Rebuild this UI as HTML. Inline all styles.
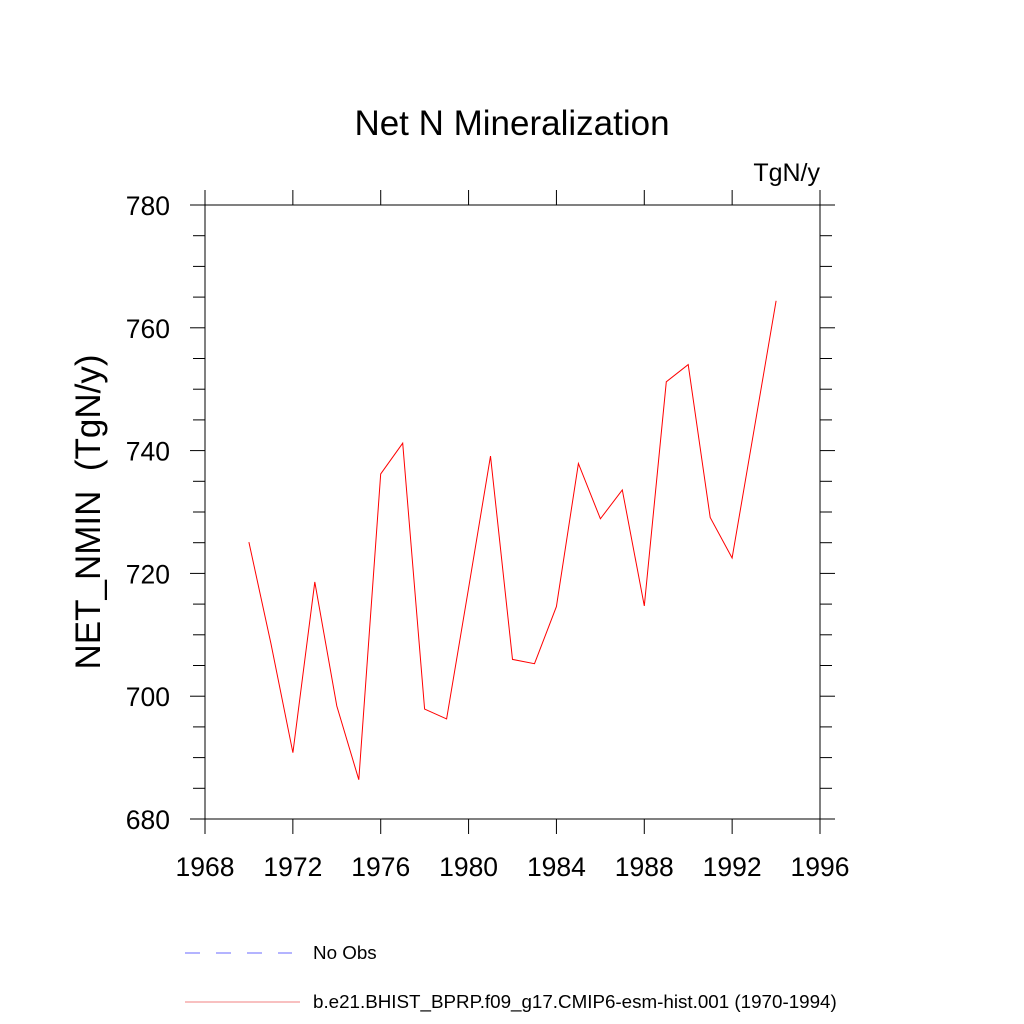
<!DOCTYPE html>
<html><head><meta charset="utf-8"><style>
body{margin:0;background:#fff}
svg{display:block;font-family:"Liberation Sans",Arial,sans-serif}
</style></head><body>
<svg id="chart" width="1024" height="1024" viewBox="0 0 1024 1024">
<text x="512" y="135" font-size="35" text-anchor="middle">Net N Mineralization</text>
<text x="820" y="181" font-size="25" text-anchor="end">TgN/y</text>
<text transform="translate(100,512) rotate(-90)" font-size="35" text-anchor="middle" style="white-space:pre" xml:space="preserve">NET_NMIN  (TgN/y)</text>
<g id="axes"></g>
<g id="series"></g>
<g>
<line x1="185" y1="953" x2="292" y2="953" stroke="#6a6aff" stroke-width="1" stroke-dasharray="15,16"/>
<text x="313" y="959" font-size="18.8">No Obs</text>
<line x1="185" y1="1002" x2="300" y2="1002" stroke="#f08080" stroke-width="1"/>
<text x="313" y="1008" font-size="18.8">b.e21.BHIST_BPRP.f09_g17.CMIP6-esm-hist.001 (1970-1994)</text>
</g>
</svg>
<script>
const years=[1970,1971,1972,1973,1974,1975,1976,1977,1978,1979,1980,1981,1982,1983,1984,1985,1986,1987,1988,1989,1990,1991,1992,1993,1994];
const values=[725.1,708.6,690.8,718.6,698.4,686.4,736.2,741.2,697.9,696.3,717.6,739.1,706.0,705.3,714.6,737.9,728.9,733.6,714.7,751.2,754.0,729.1,722.5,743.4,764.4];
const xTicks=[1968,1972,1976,1980,1984,1988,1992,1996];
const yTicks=[680,700,720,740,760,780];
const L=205,R=820,T=205,B=819,X0=1968,X1=1996,Y0=680,Y1=780;
const sx=v=>L+(v-X0)/(X1-X0)*(R-L);
const sy=v=>B-(v-Y0)/(Y1-Y0)*(B-T);
const NS='http://www.w3.org/2000/svg';
const ax=document.getElementById('axes');
function mk(tag,attrs,parent){const e=document.createElementNS(NS,tag);for(const k in attrs)e.setAttribute(k,attrs[k]);parent.appendChild(e);return e;}
const frame=mk('rect',{x:L,y:T,width:R-L,height:B-T,fill:'none',stroke:'#000','stroke-width':1},ax);


xTicks.forEach(t=>{
 const x=sx(t);
 const a=mk('line',{x1:x,y1:B,x2:x,y2:B+15,stroke:'#000'},ax);
 
 
 const b=mk('line',{x1:x,y1:T,x2:x,y2:T-15,stroke:'#000'},ax);
 
 
 const tx=mk('text',{x:x,y:B+57,'font-size':26.5,'text-anchor':'middle'},ax);
 tx.textContent=t;
 
 
});
for(let v=Y0;v<=Y1;v+=5){
 const y=sy(v);const major=(v%20===0);const len=major?15:12;
 const a=mk('line',{x1:L,y1:y,x2:L-len,y2:y,stroke:'#000'},ax);
 
 
 const b=mk('line',{x1:R,y1:y,x2:R+len,y2:y,stroke:'#000'},ax);
 
 
}
yTicks.forEach(t=>{
 const tx=mk('text',{x:170,y:sy(t)+10,'font-size':26.5,'text-anchor':'end'},ax);
 tx.textContent=t;
 
 
});
const pts=years.map((y,i)=>sx(y).toFixed(1)+','+sy(values[i]).toFixed(1)).join(' ');
const pl=mk('polyline',{points:pts,fill:'none',stroke:'#ff0000','stroke-width':1},document.getElementById('series'));


</script>
</body></html>
